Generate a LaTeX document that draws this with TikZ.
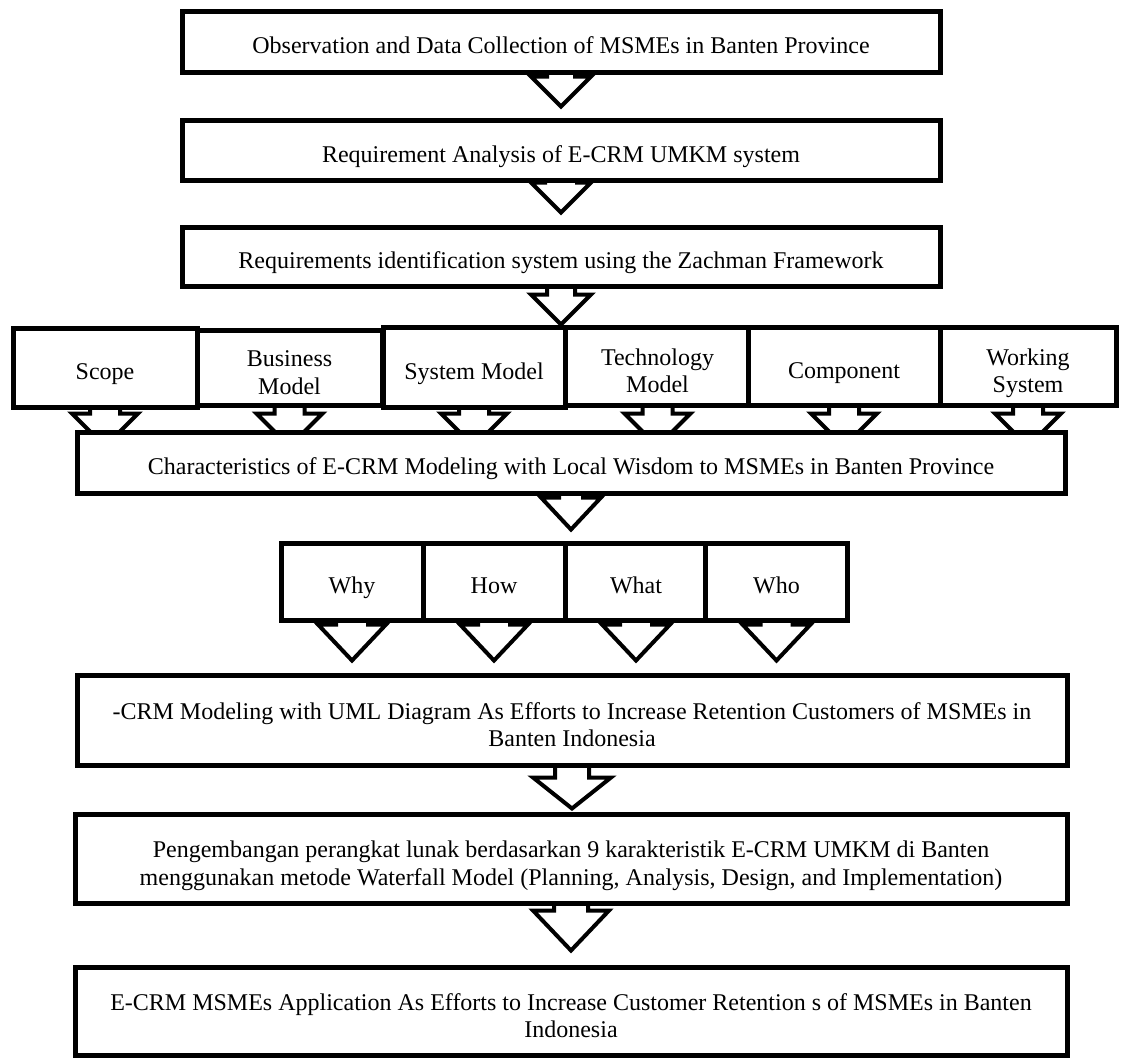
\documentclass[tikz,border=0pt]{standalone}
\usepackage{fontspec}
\setmainfont{Liberation Serif}
\usetikzlibrary{calc,backgrounds}

\tikzset{
  strutht/.style={execute at begin node={\rule[-6pt]{0pt}{#1pt}}},
  box/.style={draw, line width=5pt, fill=white, align=center, inner sep=0pt,
    font=\fontsize{24}{27.5}\selectfont, strutht=36},
  twoline/.style={strutht=65},
  boxdim/.style 2 args={minimum width=#1pt, minimum height=#2pt},
  flowline/.style={draw, line width=4pt, fill=white, line join=miter},
}

% hollow block arrow: from node #1 down towards node #2,
% tip #3pt above #2.north, shaft half width #4, head half width #5, head length #6
\newcommand{\flowarrow}[6]{%
  \draw[flowline] let \p1=(#1.south), \p2=(#2.north) in
    (\x1-#4pt,\y1) -- (\x1-#4pt,\y2+#3pt+#6pt) -- (\x1-#5pt,\y2+#3pt+#6pt)
    -- (\x1,\y2+#3pt) -- (\x1+#5pt,\y2+#3pt+#6pt) -- (\x1+#4pt,\y2+#3pt+#6pt)
    -- (\x1+#4pt,\y1);
}

\begin{document}
\begin{tikzpicture}[x=1pt,y=-1pt]
\useasboundingbox (0,0) rectangle (1121,1057);

\node[box, boxdim={758}{60}] (obs) at (561,42)
  {Observation and Data Collection of MSMEs in Banten Province};
\node[box, boxdim={758}{60}] (req) at (561,150)
  {Requirement Analysis of E-CRM UMKM system};
\node[box, boxdim={758}{59}] (zach) at (561,256.5)
  {Requirements identification system using the Zachman Framework};

% Zachman rows
\foreach \nm/\cx/\cy/\bw/\bh/\rh/\lbl in {
    scope/105/367.5/184/79/36/Scope,
    business/289.5/367.5/185/75/65/{Business\\Model},
    sysmodel/474/367/182/80/36/System Model,
    techmodel/657.5/366/185/78/65/{Technology\\Model},
    component/844/366/192/78/36/Component,
    working/1028/366/176/78/65/{Working\\System}} {
  \node[box, boxdim={\bw}{\bh}, strutht=\rh] (\nm) at (\cx,\cy) {\lbl};
}

\node[box, boxdim={988}{61}] (charac) at (571,462.5)
  {Characteristics of E-CRM Modeling with Local Wisdom to MSMEs in Banten Province};

% interrogatives
\foreach \nm/\cx/\lbl in {why/352/Why, how/494/How, what/636/What, who/776.5/Who} {
  \node[box, boxdim={142}{77}] (\nm) at (\cx,581.5) {\lbl};
}

\node[box, twoline, boxdim={990}{90}] (uml) at (572,720)
  {-CRM Modeling with UML Diagram As Efforts to Increase Retention Customers of MSMEs in\\Banten Indonesia};
\node[box, twoline, boxdim={992}{89}] (dev) at (571,858.5)
  {Pengembangan perangkat lunak berdasarkan 9 karakteristik E-CRM UMKM di Banten\\menggunakan metode Waterfall Model (Planning, Analysis, Design, and Implementation)};
\node[box, twoline, boxdim={992}{88}] (app) at (571,1011)
  {E-CRM MSMEs Application As Efforts to Increase Customer Retention s of MSMEs in Banten\\Indonesia};

\begin{scope}[on background layer]
\flowarrow{obs}{req}{11}{14}{30}{30}
\flowarrow{req}{zach}{12}{14}{30}{30}
\flowarrow{zach}{sysmodel}{0}{14}{30}{30}
\foreach \nm in {scope,business,sysmodel,techmodel,component,working}
  \flowarrow{\nm}{charac}{-17}{15}{33}{33};
\flowarrow{charac}{what}{11}{12}{30}{32}
\foreach \nm in {why,how,what,who}
  \flowarrow{\nm}{uml}{12}{16}{34}{36};
\flowarrow{uml}{dev}{3}{17}{39}{31}
\flowarrow{dev}{app}{14}{17}{38}{40}
\end{scope}
\end{tikzpicture}
\end{document}
